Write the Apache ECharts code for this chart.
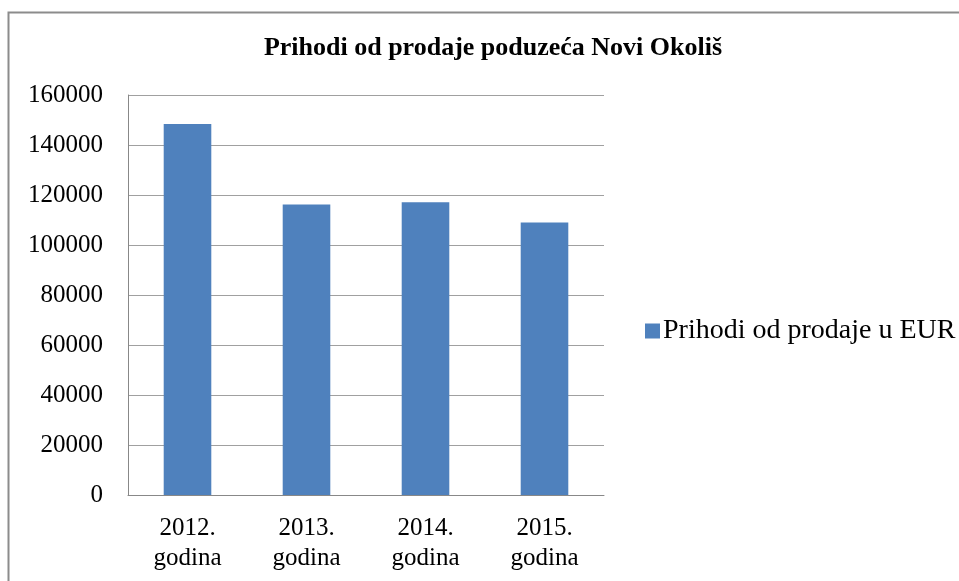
<!DOCTYPE html>
<html>
<head>
<meta charset="utf-8">
<script src="https://cdn.jsdelivr.net/npm/echarts@6/dist/echarts.min.js"></script>
<style>
html,body{margin:0;padding:0;background:#fff;}
#chart{width:959px;height:581px;}
</style>
</head>
<body>
<div id="chart"></div>
<script>
const categories = ['2012.\ngodina', '2013.\ngodina', '2014.\ngodina', '2015.\ngodina'];
const revenue = [148400, 116200, 117100, 109000];
const seriesName = 'Prihodi od prodaje u EUR';
const titleText = 'Prihodi od prodaje poduzeća Novi Okoliš';

const chart = echarts.init(document.getElementById('chart'), null, {renderer: 'canvas'});
const font = '"Liberation Serif", "Times New Roman", serif';
chart.setOption({
  animation: false,
  textStyle: {fontFamily: font},
  title: {
    text: titleText,
    left: 488, top: 30, textAlign: 'center',
    textStyle: {fontFamily: font, fontWeight: 'bold', fontSize: 26, color: '#000'}
  },
  graphic: [{
    type: 'rect', left: 6, top: 10,
    shape: {width: 1000, height: 700},
    style: {fill: 'none', stroke: '#8c8c8c', lineWidth: 2},
    silent: true
  }],
  legend: {
    left: 640, top: 312,
    itemWidth: 15, itemHeight: 15, itemGap: 4,
    icon: 'rect',
    textStyle: {fontFamily: font, fontSize: 28, color: '#000', padding: [0, 0, 0, -2]},
    data: [seriesName]
  },
  grid: {left: 128, right: 355, top: 95, bottom: 86, containLabel: false},
  xAxis: {
    type: 'category',
    data: categories,
    axisLine: {lineStyle: {color: '#888', width: 1}},
    axisTick: {show: false},
    axisLabel: {fontFamily: font, fontSize: 25, color: '#000', lineHeight: 30, margin: 18}
  },
  yAxis: {
    type: 'value', min: 0, max: 160000, interval: 20000,
    axisLine: {show: true, lineStyle: {color: '#888'}},
    axisTick: {show: false},
    splitLine: {lineStyle: {color: '#a0a0a0', width: 1}},
    axisLabel: {fontFamily: font, fontSize: 25, color: '#000', margin: 25, formatter: function (v) { return String(v); }}
  },
  series: [{
    name: seriesName,
    type: 'bar',
    data: revenue,
    barWidth: '40%',
    itemStyle: {color: '#4F81BD'}
  }]
});
</script>
</body>
</html>
